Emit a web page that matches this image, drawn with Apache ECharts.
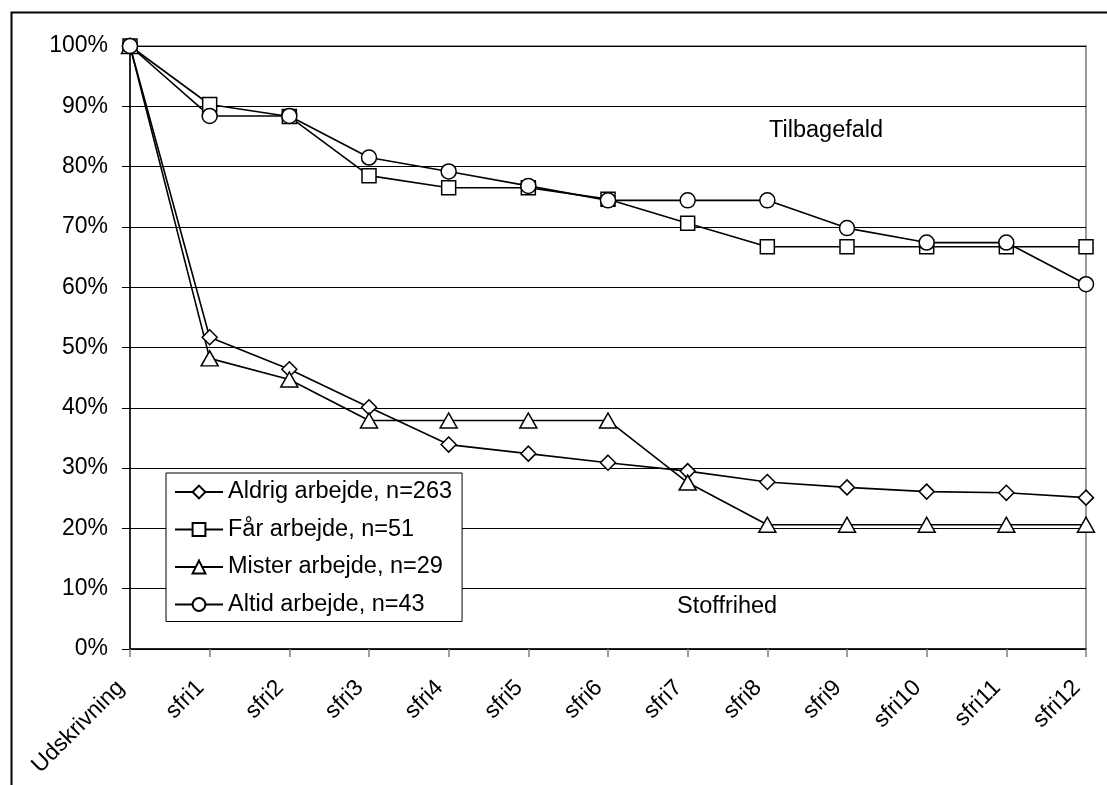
<!DOCTYPE html>
<html>
<head>
<meta charset="utf-8">
<script src="https://cdn.jsdelivr.net/npm/echarts@6/dist/echarts.min.js"></script>
<style>
html,body{margin:0;padding:0;background:#fff;}
#c{width:1107px;height:785px;}
</style>
</head>
<body>
<div id="c"></div>
<script>
var categories = ['Udskrivning','sfri1','sfri2','sfri3','sfri4','sfri5','sfri6','sfri7','sfri8','sfri9','sfri10','sfri11','sfri12'];
var aldrig = [100, 51.7, 46.4, 40.1, 33.9, 32.4, 30.9, 29.5, 27.7, 26.8, 26.1, 25.9, 25.1];
var faar   = [100, 90.3, 88.3, 78.5, 76.5, 76.5, 74.6, 70.6, 66.7, 66.7, 66.7, 66.7, 66.7];
var mister = [100, 48.2, 44.7, 37.9, 37.9, 37.9, 37.9, 27.6, 20.6, 20.6, 20.6, 20.6, 20.6];
var altid  = [100, 88.4, 88.4, 81.5, 79.2, 76.8, 74.4, 74.4, 74.4, 69.8, 67.4, 67.4, 60.5];
var seriesNames = ['Aldrig arbejde, n=263','Får arbejde, n=51','Mister arbejde, n=29','Altid arbejde, n=43'];
var annotations = ['Tilbagefald','Stoffrihed'];

var FONT = '"Liberation Sans", Arial, sans-serif';
var chart = echarts.init(document.getElementById('c'));

function mk(name, data, symbol, size) {
  return {
    name: name, type: 'line', data: data,
    symbol: symbol, symbolSize: size, showAllSymbol: true,
    lineStyle: {color: '#000', width: 1.6},
    itemStyle: {color: '#fff', borderColor: '#000', borderWidth: 1.5},
    emphasis: {disabled: true},
    animation: false
  };
}

chart.setOption({
  animation: false,
  textStyle: {fontFamily: FONT},
  grid: {left: 130, right: 21, top: 46, bottom: 136, show: true, borderColor: '#9a9a9a', borderWidth: 2, backgroundColor: 'transparent'},
  legend: {
    orient: 'vertical', left: 166, top: 473,
    padding: [6, 10, 4, 8],
    backgroundColor: '#fff', borderColor: '#000', borderWidth: 1,
    itemWidth: 48, itemHeight: 16, itemGap: 11.5,
    textStyle: {fontFamily: FONT, fontSize: 23.5, color: '#000', lineHeight: 26},
    data: seriesNames
  },
  xAxis: {
    type: 'category', data: categories, boundaryGap: false,
    axisLine: {lineStyle: {color: '#000', width: 1.5}},
    axisTick: {show: true, length: 8, lineStyle: {color: '#808080', width: 1.5}},
    axisLabel: {rotate: 45, margin: 26, padding: [0, 13, 0, 0], fontFamily: FONT, fontSize: 23, color: '#000', interval: 0}
  },
  yAxis: {
    type: 'value', min: 0, max: 100, interval: 10,
    axisLine: {show: true, lineStyle: {color: '#000', width: 1.5}},
    axisTick: {show: true, length: 8, lineStyle: {color: '#000', width: 1}},
    axisLabel: {formatter: '{value}%', margin: 22, fontFamily: FONT, fontSize: 23, color: '#000'},
    splitLine: {lineStyle: {color: '#000', width: 1}}
  },
  graphic: [
    {type: 'rect', left: 9, top: 10, z: 100, silent: true,
     shape: {x: 0, y: 0, width: 1200, height: 900},
     style: {fill: 'none', stroke: '#000', lineWidth: 2}},
    {type: 'text', left: 769, top: 119, z: 50,
     style: {text: annotations[0], font: '23.5px ' + FONT, fill: '#000'}},
    {type: 'text', left: 677, top: 595, z: 50,
     style: {text: annotations[1], font: '23.5px ' + FONT, fill: '#000'}}
  ],
  series: [
    mk(seriesNames[0], aldrig, 'diamond', [15, 15]),
    mk(seriesNames[1], faar, 'rect', [14, 14]),
    mk(seriesNames[2], mister, 'triangle', [17, 15]),
    mk(seriesNames[3], altid, 'circle', 15)
  ]
});
</script>
</body>
</html>
